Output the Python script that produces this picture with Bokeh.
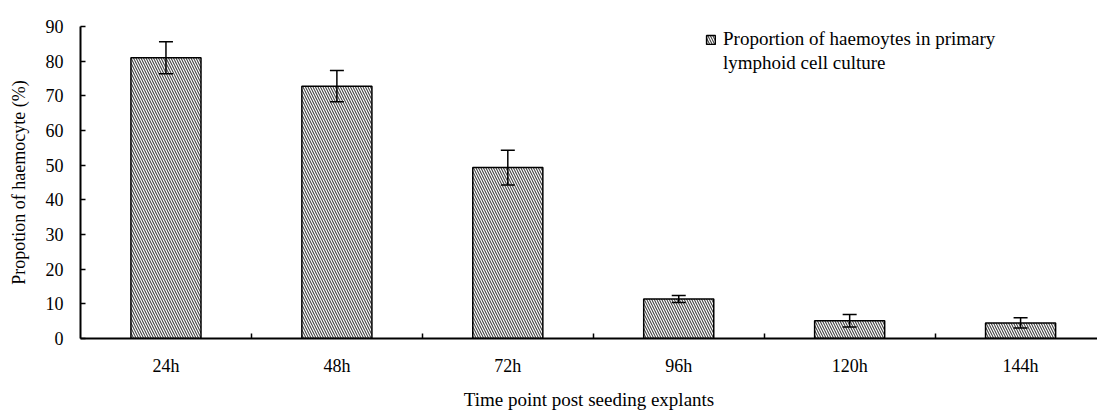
import numpy as np
from bokeh.plotting import figure
from bokeh.models import (ColumnDataSource, Range1d, FixedTicker, Whisker, TeeHead,
                          Legend, LegendItem)
from bokeh.embed import file_html
from bokeh.resources import INLINE

categories = ["24h", "48h", "72h", "96h", "120h", "144h"]
values = [81.0, 72.8, 49.3, 11.4, 5.1, 4.5]
errors = [4.6, 4.5, 5.0, 1.0, 1.8, 1.5]
y_ticks = [0, 10, 20, 30, 40, 50, 60, 70, 80, 90]
series_label_lines = ["Proportion of haemoytes in primary", "lymphoid cell culture"]

x = np.arange(len(categories)) + 0.5
vals = np.array(values)
errs = np.array(errors)
src = ColumnDataSource(dict(x=x, top=vals, upper=vals + errs, lower=vals - errs))

FONT = "Liberation Serif"

p = figure(width=1097, height=412, output_backend="svg", toolbar_location=None,
           x_range=Range1d(0, 5.95), y_range=Range1d(0, 90),
           min_border_left=80, min_border_right=0, min_border_top=26, min_border_bottom=74)
p.xgrid.visible = False
p.ygrid.visible = False
p.outline_line_color = None
p.background_fill_color = "white"

bars = p.vbar(x="x", top="top", width=0.41, source=src, fill_color="white",
              line_color="black", line_width=1.5,
              hatch_pattern="left_diagonal_line", hatch_color="#444444",
              hatch_scale=5, hatch_weight=1.1)

# invisible renderer used only to carry the second line of the legend text
blank = p.vbar(x=[], top=[], width=0.41, fill_alpha=0, line_alpha=0)

w = Whisker(base="x", upper="upper", lower="lower", source=src, level="overlay",
            line_color="black", line_width=1.5,
            upper_head=TeeHead(size=14, line_width=1.5, line_color="black"),
            lower_head=TeeHead(size=14, line_width=1.5, line_color="black"))
p.add_layout(w)

xa = p.xaxis[0]
xa.ticker = FixedTicker(ticks=list(x), minor_ticks=[1, 2, 3, 4, 5])
xa.major_label_overrides = {float(v): c for v, c in zip(x, categories)}
xa.major_tick_in = 0
xa.major_tick_out = 0
xa.minor_tick_in = 5
xa.minor_tick_out = 0
xa.minor_tick_line_width = 1.5
xa.axis_line_width = 2
xa.major_label_standoff = 17
xa.major_label_text_font = FONT
xa.major_label_text_font_size = "18px"
xa.major_label_text_color = "black"
xa.axis_label = "Time point post seeding explants"
xa.axis_label_text_font = FONT
xa.axis_label_text_font_size = "19px"
xa.axis_label_text_font_style = "normal"
xa.axis_label_text_color = "black"
xa.axis_label_standoff = 10

ya = p.yaxis[0]
ya.ticker = FixedTicker(ticks=y_ticks, minor_ticks=[])
ya.major_tick_in = 5
ya.major_tick_out = 0
ya.major_tick_line_width = 1.5
ya.axis_line_width = 2
ya.major_label_standoff = 17
ya.major_label_text_font = FONT
ya.major_label_text_font_size = "18px"
ya.major_label_text_color = "black"
ya.axis_label = "Propotion of haemocyte (%)"
ya.axis_label_text_font = FONT
ya.axis_label_text_font_size = "18px"
ya.axis_label_text_font_style = "normal"
ya.axis_label_text_color = "black"
ya.axis_label_standoff = 14

legend = Legend(items=[LegendItem(label=series_label_lines[0], renderers=[bars]),
                       LegendItem(label=series_label_lines[1], renderers=[blank])],
                location=(625, 264), border_line_color=None, background_fill_alpha=0,
                padding=0, margin=0, spacing=2, glyph_width=11, glyph_height=11,
                label_height=22, label_text_font=FONT, label_text_font_size="19px",
                label_text_color="black", label_standoff=7)
p.add_layout(legend)

open("out.html", "w").write(file_html(p, INLINE))
